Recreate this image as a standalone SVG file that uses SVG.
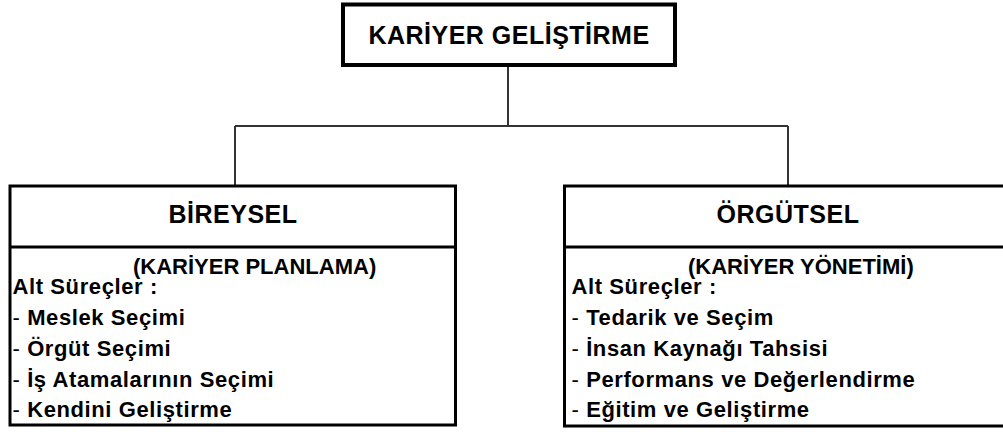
<svg xmlns="http://www.w3.org/2000/svg" width="1003" height="432" viewBox="0 0 1003 432">
  <style>
    .box { fill: #ffffff; stroke: #000000; stroke-width: 3; }
    .top { stroke-width: 4; }
    .div { stroke: #000000; stroke-width: 3; }
    .conn { fill: none; stroke: #333333; stroke-width: 2; }
    text { font-family: "Liberation Sans", Arial, sans-serif; font-weight: bold; fill: #000000; }
    .title { font-size: 25px; letter-spacing: 0.5px; text-anchor: middle; }
    .sub { font-size: 22px; }
    .item { font-size: 22px; letter-spacing: 0.6px; }
    .dash { font-weight: normal; }
  </style>

  <!-- tree connectors -->
  <g id="connectors">
    <path class="conn" d="M508 65 V126 M235 126 H788 M235 126 V186 M788 126 V186"/>
  </g>

  <!-- root -->
  <g id="node-kariyer-gelistirme">
    <rect class="box top" x="343" y="4.5" width="332" height="60.5"/>
    <text class="title" x="509" y="43.5">KARİYER GELİŞTİRME</text>
  </g>

  <!-- individual branch -->
  <g id="node-bireysel">
    <rect class="box" x="10" y="186" width="445.5" height="239"/>
    <line class="div" x1="10" y1="247" x2="455.5" y2="247"/>
    <text class="title" x="233" y="223">BİREYSEL</text>
    <text class="sub" x="133" y="274">(KARİYER PLANLAMA)</text>
    <text class="item" x="12.5" y="294">Alt Süreçler :</text>
    <text class="item" x="12.5" y="325"><tspan class="dash">-</tspan> Meslek Seçimi</text>
    <text class="item" x="12.5" y="356"><tspan class="dash">-</tspan> Örgüt Seçimi</text>
    <text class="item" x="12.5" y="387"><tspan class="dash">-</tspan> İş Atamalarının Seçimi</text>
    <text class="item" x="12.5" y="417"><tspan class="dash">-</tspan> Kendini Geliştirme</text>
  </g>

  <!-- organisational branch -->
  <g id="node-orgutsel">
    <rect class="box" x="564.5" y="186" width="446" height="240"/>
    <line class="div" x1="564.5" y1="247" x2="1010" y2="247"/>
    <text class="title" x="788" y="223">ÖRGÜTSEL</text>
    <text class="sub" x="688" y="274">(KARİYER YÖNETİMİ)</text>
    <text class="item" x="571.5" y="294">Alt Süreçler :</text>
    <text class="item" x="571.5" y="325"><tspan class="dash">-</tspan> Tedarik ve Seçim</text>
    <text class="item" x="571.5" y="356"><tspan class="dash">-</tspan> İnsan Kaynağı Tahsisi</text>
    <text class="item" x="571.5" y="387"><tspan class="dash">-</tspan> Performans ve Değerlendirme</text>
    <text class="item" x="571.5" y="417"><tspan class="dash">-</tspan> Eğitim ve Geliştirme</text>
  </g>
</svg>
